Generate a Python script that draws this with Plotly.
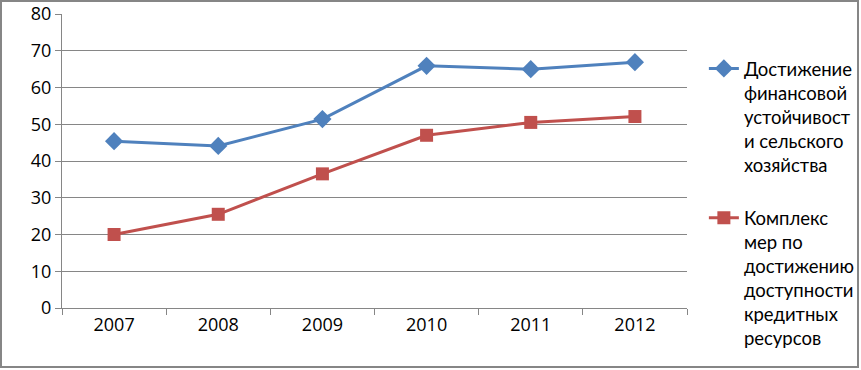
import plotly.graph_objects as go

years = ["2007", "2008", "2009", "2010", "2011", "2012"]
fin_stability = [45.4, 44.1, 51.4, 65.9, 65.0, 66.9]
credit_access = [20.0, 25.5, 36.5, 47.0, 50.5, 52.1]
name_fin = "Достижение<br>финансовой<br>устойчивост<br>и сельского<br>хозяйства"
name_credit = "Комплекс<br>мер по<br>достижению<br>доступности<br>кредитных<br>ресурсов"

W, H = 861, 370
ML, MR, MT, MB = 62, 174, 14, 62
PW, PH = W - ML - MR, H - MT - MB

fig = go.Figure()
fig.add_trace(go.Scatter(x=years, y=fin_stability, name=name_fin, mode="lines+markers",
                         legendgroup="a",
                         line=dict(color="#4F81BD", width=3),
                         marker=dict(symbol="diamond", size=14, color="#4F81BD")))
fig.add_trace(go.Scatter(x=years, y=credit_access, name=name_credit, mode="lines+markers",
                         legendgroup="b",
                         line=dict(color="#C0504D", width=3),
                         marker=dict(symbol="square", size=13, color="#C0504D")))

font = "Open Sans, Liberation Sans, sans-serif"
legend_font = "Lato, Liberation Sans, sans-serif"
fig.update_layout(
    width=W, height=H,
    margin=dict(l=ML, r=MR, t=MT, b=MB, autoexpand=False),
    paper_bgcolor="white", plot_bgcolor="white",
    font=dict(family=font, size=18, color="#000"),
    showlegend=True,
    legend=dict(x=1.027, y=0.878, xanchor="left", yanchor="top", valign="top",
                font=dict(size=18.5, family=legend_font), tracegroupgap=26,
                itemwidth=30, bgcolor="rgba(0,0,0,0)", maxheight=370),
    xaxis=dict(type="category", showgrid=False, showline=True, linecolor="#868686",
               linewidth=1, ticks="outside", tickson="boundaries", ticklen=6,
               tickcolor="#868686", tickfont=dict(size=18), range=[-0.5, 5.5],
               automargin=False),
    yaxis=dict(range=[0, 80], dtick=10, showgrid=True, gridcolor="#868686", gridwidth=1,
               showline=True, linecolor="#868686", linewidth=1, ticks="outside",
               ticklen=6, tickcolor="#868686", tickfont=dict(size=18), zeroline=False,
               automargin=False),
)
fig.add_shape(type="rect", xref="paper", yref="paper",
              x0=-(ML - 1) / PW, x1=1 + (MR - 3) / PW,
              y0=-(MB - 3) / PH, y1=1 + (MT - 1) / PH,
              line=dict(color="#868686", width=2), layer="below")
fig.write_html("out.html", config={"displayModeBar": False},
               post_script="document.body.style.margin='0';")
